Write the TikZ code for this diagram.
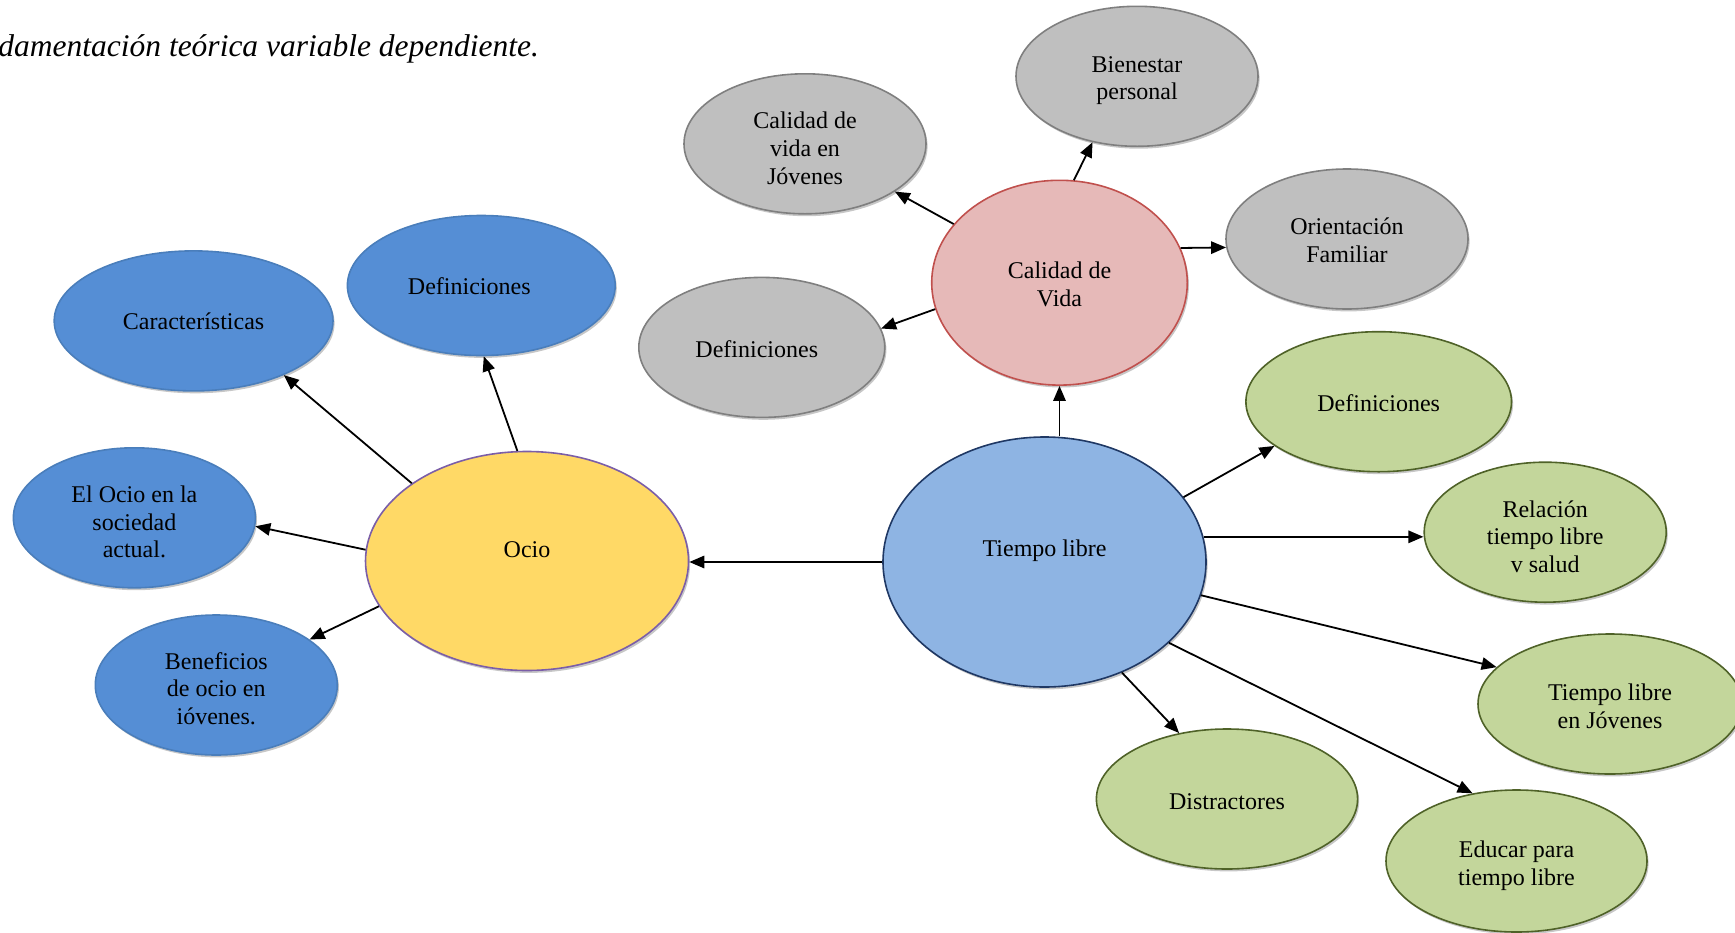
\documentclass[tikz,border=0pt]{standalone}
\usepackage{fontspec}
\setmainfont{Liberation Serif}
\usetikzlibrary{shapes.geometric,arrows.meta,shadows}
\definecolor{ociofill}{HTML}{FFD966}
\definecolor{ociodraw}{HTML}{7B5EA8}
\definecolor{tlfill}{HTML}{8EB4E3}
\definecolor{tldraw}{HTML}{1F3864}
\definecolor{cvfill}{HTML}{E6B9B8}
\definecolor{cvdraw}{HTML}{C0504D}
\definecolor{grayfill}{HTML}{BFBFBF}
\definecolor{graydraw}{HTML}{7F7F7F}
\definecolor{bluefill}{HTML}{558ED5}
\definecolor{bluedraw}{HTML}{4A7EBB}
\definecolor{greenfill}{HTML}{C3D69B}
\definecolor{greendraw}{HTML}{4F6228}
\tikzset{
  bubble/.style={ellipse, inner sep=0pt, line width=0.8pt,
    drop shadow={shadow xshift=0.8pt, shadow yshift=-1.2pt, opacity=0.22, fill=black}},
  lab/.style={align=center, inner sep=0pt, font=\fontsize{12}{13.8}\selectfont},
  graybub/.style={bubble, fill=grayfill, draw=graydraw, minimum width=121pt, minimum height=70pt},
  bluebub/.style={bubble, fill=bluefill, draw=bluedraw, minimum width=121pt, minimum height=70pt},
  greenbub/.style={bubble, fill=greenfill, draw=greendraw, minimum width=121pt, minimum height=70pt},
  arr/.style={line width=0.9pt, -{Triangle[length=7.5pt,width=6.2pt]}}
}
\begin{document}
\begin{tikzpicture}[x=0.5pt,y=-0.5pt]
\useasboundingbox (0,0) rectangle (1735,932);
\clip (0,0) rectangle (1735,932);
\node[anchor=base west, inner sep=0pt, font=\fontsize{15.75}{18}\selectfont\itshape] (title) at (-2,56) {damentación teórica variable dependiente.};

% central nodes
\node[bubble, fill=ociofill, draw=ociodraw, minimum width=161.5pt, minimum height=109.5pt,
  label={[lab, yshift=5.5pt]center:Ocio}] (ocio) at (527,561) {};
\node[bubble, fill=tlfill, draw=tldraw, minimum width=161.5pt, minimum height=125pt,
  label={[lab, yshift=5.5pt]center:Tiempo libre}] (tl) at (1044.5,562) {};
\node[bubble, fill=cvfill, draw=cvdraw, minimum width=127.8pt, minimum height=102.4pt,
  label={[lab, yshift=-0.8pt]center:Calidad de\\Vida}] (cv) at (1059.5,282.7) {};

% gray
\node[graybub, label={[lab, yshift=-2.2pt]center:Calidad de\\vida en\\Jóvenes}] (cvj) at (805,143.8) {};
\node[graybub, label={[lab, yshift=-2.2pt]center:Bienestar\\personal}] (bien) at (1137,76.3) {};
\node[graybub, label={[lab, yshift=-0.6pt]center:Orientación\\Familiar}] (ori) at (1347,239) {};
\node[graybub, minimum width=123pt, label={[lab, xshift=-2.5pt, yshift=-1.1pt]center:Definiciones}] (defg) at (761.8,347.4) {};

% blue
\node[bluebub, minimum width=139.4pt, label={[lab]center:Características}] (car) at (193.6,320.9) {};
\node[bluebub, minimum width=133.9pt, label={[lab, xshift=-6pt, yshift=-0.5pt]center:Definiciones}] (defb) at (481.3,285.5) {};
\node[bluebub, label={[lab, yshift=-2.2pt]center:El Ocio en la\\sociedad\\actual.}] (soc) at (134.4,517.8) {};
\node[bluebub, label={[lab, yshift=-1.8pt]center:Beneficios\\de ocio en\\ióvenes.}] (ben) at (216.3,685) {};

% green
\node[greenbub, minimum width=132.8pt, label={[lab, yshift=-0.5pt]center:Definiciones}] (defv) at (1378.7,401.7) {};
\node[greenbub, label={[lab, yshift=-2.2pt]center:Relación\\tiempo libre\\v salud}] (rel) at (1545.2,532.2) {};
\node[greenbub, minimum width=132pt, label={[lab, yshift=-1.1pt]center:Tiempo libre\\en Jóvenes}] (tlj) at (1610,704) {};
\node[greenbub, minimum width=130.5pt, minimum height=71pt, label={[lab, yshift=-2.4pt]center:Educar para\\tiempo libre}] (edu) at (1516.5,861) {};
\node[greenbub, minimum width=130.6pt, label={[lab, yshift=-1.1pt]center:Distractores}] (dis) at (1227,799) {};

% arrows from Ocio
\draw[arr] (ocio.146.4) -- (car.329);
\draw[arr] (ocio.95.4) -- (defb.272.7);
\draw[arr] (ocio.176.8) -- (soc.356.8);
\draw[arr] (ocio.197.4) -- (ben.26.4);
% arrows from Tiempo libre
\draw[arr] (tl.west) -- (ocio.east |- tl.west);
\draw[arr] (cv.south |- tl.north) -- (cv.south);
\draw[arr] (tl.25) -- (defv.203.1);
\draw[arr] (tl.9) -- (rel.west |- tl.9);
\draw[arr] (tl.348.8) -- (tlj.162);
\draw[arr] (tl.327.1) -- (edu.123.3);
\draw[arr] (tl.305.3) -- (dis.126.5);
% arrows from Calidad de Vida
\draw[arr] (cv.151.7) -- (cvj.332.4);
\draw[arr] (cv.82.5) -- (bien.236);
\draw[arr] (cv.16.2) -- (ori.184.3);
\draw[arr] (cv.192.5) -- (defg.9.4);
\end{tikzpicture}
\end{document}
